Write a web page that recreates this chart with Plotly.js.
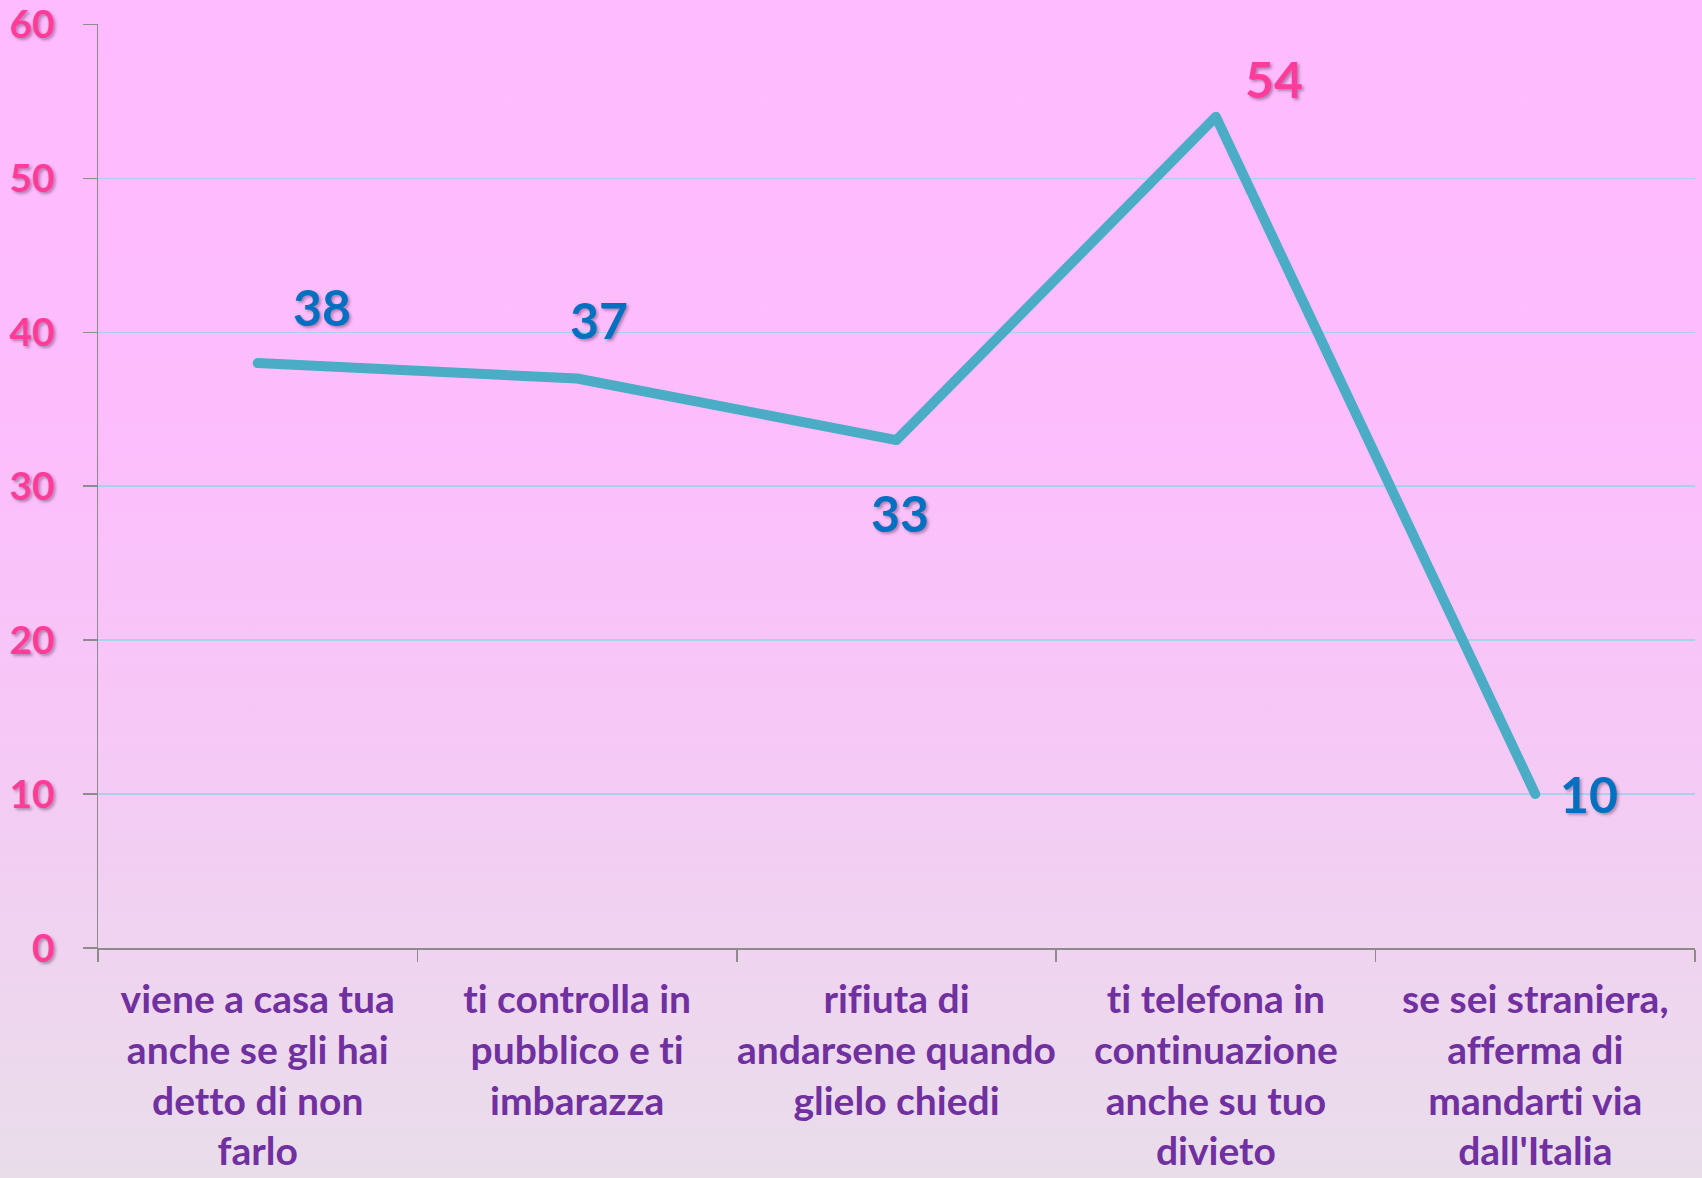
<!DOCTYPE html>
<html>
<head>
<meta charset="utf-8">
<script src="https://cdn.plot.ly/plotly-3.0.1.min.js"></script>
<style>
  html, body { margin: 0; padding: 0; }
  body {
    width: 1702px; height: 1178px; overflow: hidden;
    background: linear-gradient(to bottom, #ffbbff 0%, #fdbdfd 35%, #f6c8f6 62%, #eed6ef 85%, #e9ddea 100%);
  }
  #chart { width: 1702px; height: 1178px; }
  #chart text { font-variant-ligatures: none !important; font-feature-settings: "liga" 0, "clig" 0, "dlig" 0 !important; }
  .scatterlayer path.js-line { stroke-linecap: round !important; stroke-linejoin: round !important; }
</style>
</head>
<body>
<div id="chart"></div>
<script>
const categories = [
  "viene a casa tua anche se gli hai detto di non farlo",
  "ti controlla in pubblico e ti imbarazza",
  "rifiuta di andarsene quando glielo chiedi",
  "ti telefona in continuazione anche su tuo divieto",
  "se sei straniera, afferma di mandarti via dall'Italia"
];
const tickLabels = [
  "viene a casa tua<br>anche se gli hai<br>detto di non<br>farlo",
  "ti controlla in<br>pubblico e ti<br>imbarazza",
  "rifiuta di<br>andarsene quando<br>glielo chiedi",
  "ti telefona in<br>continuazione<br>anche su tuo<br>divieto",
  "se sei straniera,<br>afferma di<br>mandarti via<br>dall'Italia"
];
const values = [38, 37, 33, 54, 10];
const yTicks = [0, 10, 20, 30, 40, 50, 60];

const labelColors = ["#0070c0", "#0070c0", "#0070c0", "#ff3c9a", "#0070c0"];
const labelShiftX = [64, 22, 3, 58, 54];
const labelShiftY = [56, 58, -73, 38, 0];

const shadow = "2px 2px 3px rgba(90,50,90,0.45)";

const trace = {
  type: "scatter",
  mode: "lines",
  x: categories,
  y: values,
  line: { color: "#4bacc6", width: 10 },
  hoverinfo: "x+y"
};

const annotations = values.map((v, i) => ({
  x: categories[i],
  y: v,
  xref: "x",
  yref: "y",
  text: String(v),
  showarrow: false,
  xshift: labelShiftX[i],
  yshift: labelShiftY[i],
  font: { family: "Lato, 'DejaVu Sans', sans-serif", size: 50, color: labelColors[i], weight: "bold", shadow: shadow }
}));

const layout = {
  width: 1702,
  height: 1178,
  margin: { l: 98, r: 7, t: 24, b: 230, pad: 0 },
  paper_bgcolor: "rgba(0,0,0,0)",
  plot_bgcolor: "rgba(0,0,0,0)",
  showlegend: false,
  xaxis: {
    type: "category",
    range: [-0.5, 4.5],
    tickvals: categories,
    ticktext: tickLabels,
    tickson: "boundaries",
    ticks: "outside",
    ticklen: 12,
    tickcolor: "#8c8c8c",
    tickwidth: 1.5,
    showline: true,
    linecolor: "#8c8c8c",
    linewidth: 1.5,
    showgrid: false,
    zeroline: false,
    automargin: false,
    tickangle: 0,
    ticklabelstandoff: 17,
    tickfont: { family: "Lato, 'DejaVu Sans', sans-serif", size: 39, color: "#7030a0", weight: "bold" }
  },
  yaxis: {
    range: [0, 60.03],
    tickvals: yTicks,
    ticktext: yTicks.map(String),
    ticks: "outside",
    ticklen: 14,
    tickcolor: "#8c8c8c",
    tickwidth: 1.5,
    showline: true,
    linecolor: "#8c8c8c",
    linewidth: 1.5,
    showgrid: true,
    gridcolor: "#a6d2ec",
    gridwidth: 1.5,
    zeroline: false,
    automargin: false,
    ticklabelstandoff: 20,
    tickfont: { family: "Lato, 'DejaVu Sans', sans-serif", size: 39, color: "#ff3c9a", weight: "bold", shadow: shadow }
  },
  annotations: annotations
};

Plotly.newPlot("chart", [trace], layout, { displayModeBar: false, staticPlot: true });
</script>
</body>
</html>
